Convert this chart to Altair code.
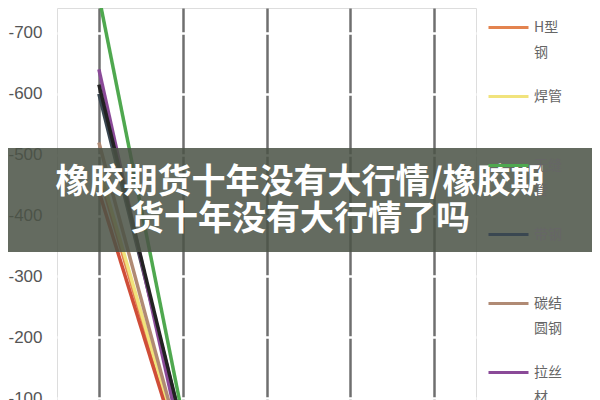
import altair as alt
import pandas as pd

# categories along x (labels are cropped away in the reference)
periods = ["1", "2", "3", "4", "5"]

series = ["H型钢", "焊管", "无缝管", "带钢", "碳结圆钢", "拉丝材", "螺纹钢", "线材"]
colors = ["#e3834f", "#f1e37c", "#4fa84f", "#3a4751", "#b08a74", "#8a4a98", "#cf4d38", "#222222"]
start_vals = [-470, -480, -760, -600, -520, -640, -440, -615]
end_vals = [0, -5, -70, -50, -10, -20, 5, -50]

y_ticks = [-700, -600, -500, -400, -300, -200, -100]

title_lines = ["橡胶期货十年没有大行情/橡胶期", "货十年没有大行情了吗"]

rows = []
for s, a, b in zip(series, start_vals, end_vals):
    rows.append({"period": periods[0], "series": s, "value": a})
    rows.append({"period": periods[1], "series": s, "value": b})
df = pd.DataFrame(rows)

lines = alt.Chart(df).mark_line(strokeWidth=3.5, clip=True).encode(
    x=alt.X("period:N", scale=alt.Scale(domain=periods, type="point", padding=0.5),
            axis=alt.Axis(title=None, labels=False, ticks=False, domain=False,
                          grid=True, gridColor="#6f6f6f", gridWidth=2.5)),
    y=alt.Y("value:Q", scale=alt.Scale(domain=[-741, -97], reverse=True, nice=False, zero=False),
            axis=alt.Axis(title=None, values=y_ticks, ticks=False, domain=False,
                          grid=True, gridColor="#ffffff", gridWidth=2.5,
                          labelExpr="'-' + (-datum.value)",
                          labelFont="Liberation Sans", labelFontSize=17,
                          labelColor="#555555", labelPadding=15)),
    color=alt.Color("series:N", scale=alt.Scale(domain=series, range=colors),
                    sort=series,
                    legend=alt.Legend(title=None, orient="none", legendX=430, legendY=-2,
                                      values=series[:6], zindex=0,
                                      symbolType="stroke", symbolSize=1600,
                                      symbolStrokeWidth=3,
                                      labelFont="Noto Sans CJK SC", labelFontSize=14,
                                      labelColor="#666666", labelBaseline="middle",
                                      labelOffset=4,
                                      labelExpr="length(datum.label) > 2 ? [substring(datum.label, 0, 2), substring(datum.label, 2)] : datum.label",
                                      rowPadding=15, gridAlign="all")),
    detail="series:N",
)

banner_df = pd.DataFrame({"k": [0]})
banner = alt.Chart(banner_df).mark_rect(color="#4b5346", opacity=0.86).encode(
    x=alt.value(-60), x2=alt.value(545), y=alt.value(140), y2=alt.value(244)
)

t1 = alt.Chart(banner_df).mark_text(
    text=title_lines[0], font="Noto Sans CJK SC", fontWeight="bold", fontSize=34,
    color="white", align="center", baseline="middle"
).encode(x=alt.value(243), y=alt.value(175))

t2 = alt.Chart(banner_df).mark_text(
    text=title_lines[1], font="Noto Sans CJK SC", fontWeight="bold", fontSize=34,
    color="white", align="center", baseline="middle"
).encode(x=alt.value(243), y=alt.value(212))

chart = alt.layer(lines, banner, t1, t2).properties(
    width=419, height=392,
    autosize=alt.AutoSizeParams(type="none"),
    padding={"left": 49, "top": 0, "right": 116, "bottom": 0},
    background="white",
).configure_view(fill="#e5e5e5", stroke=None).configure(
    style={"guide-label": {"lineHeight": 25}}
)

chart.save("out.html", embed_options={"renderer": "svg", "actions": False})
